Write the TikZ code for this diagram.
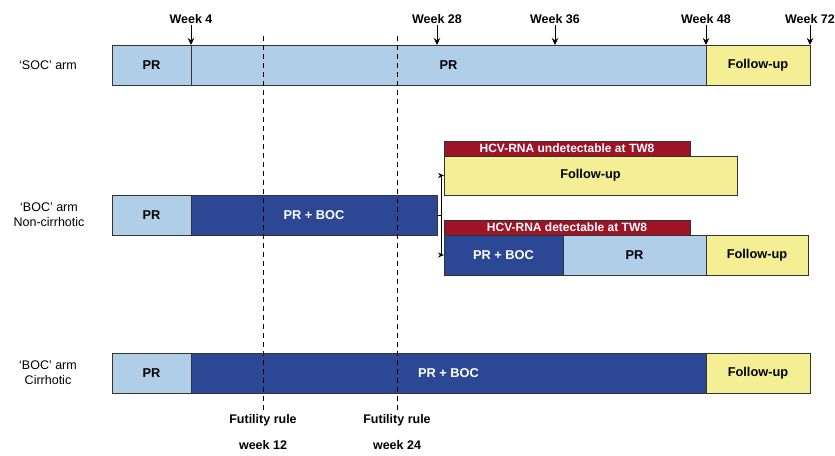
\documentclass[tikz,border=0pt]{standalone}
\usepackage{fontspec}
\setmainfont{Liberation Sans}
\usetikzlibrary{arrows.meta,positioning}
\definecolor{prcolor}{RGB}{176,206,232}
\definecolor{boccolor}{RGB}{44,72,148}
\definecolor{fucolor}{RGB}{244,238,148}
\definecolor{hcvcolor}{RGB}{158,20,38}
\tikzset{
  seg/.style={draw=black!80, line width=0.9pt, minimum height=40pt, inner sep=0pt,
    outer sep=0pt, anchor=west, font=\bfseries\fontsize{12.8}{14}\selectfont},
  prseg/.style={seg, fill=prcolor},
  bocseg/.style={seg, fill=boccolor, text=white},
  fuseg/.style={seg, fill=fucolor},
  hcvbar/.style={draw=black!80, line width=0.9pt, fill=hcvcolor, text=white,
    minimum height=15pt, inner sep=0pt, outer sep=0pt, anchor=south west,
    font=\bfseries\fontsize{12}{13}\selectfont},
  weeklbl/.style={font=\bfseries\fontsize{12.5}{14}\selectfont, inner sep=1.5pt},
  armlbl/.style={font=\fontsize{12.5}{15}\selectfont, align=center},
  tickar/.style={-{Stealth[length=7pt,width=6.5pt]}, line width=1pt},
  futln/.style={dash pattern=on 5pt off 4pt, line width=0.9pt},
  branch/.style={-{Stealth[length=6pt,width=5pt]}, line width=0.9pt},
}

\begin{document}
\begin{tikzpicture}[x=1pt, y=-1pt]
    \useasboundingbox (0,0) rectangle (835,455);
    % SOC arm
    \node[prseg, minimum width=79pt] (socpr) at (112,65) {PR};
    \node[prseg, minimum width=515pt, right=0pt of socpr] (socmain) {PR};
    \node[fuseg, minimum width=104pt, right=0pt of socmain] (socfu) {Follow-up};
    \node[armlbl] (socarm) at (48,65) {‘SOC’ arm};
    % week markers
    \node[weeklbl] (w4) at (191,19) {Week 4};
    \node[weeklbl] (w28) at (437,19) {Week 28};
    \node[weeklbl] (w36) at (555,19) {Week 36};
    \node[weeklbl] (w48) at (706,19) {Week 48};
    \node[weeklbl] (w72) at (810,19) {Week 72};
    \foreach \w in {w4,w28,w36,w48,w72}
      \draw[tickar] (\w.south) -- (\w.south |- socmain.north);
    % BOC arm, non-cirrhotic
    \node[prseg, minimum width=79pt] (ncpr) at (112,215) {PR};
    \node[bocseg, minimum width=246pt, right=0pt of ncpr] (ncboc) {PR + BOC};
    \node[armlbl] (ncarm) at (49,215) {‘BOC’ arm\\Non-cirrhotic};
    % undetectable branch
    \node[fuseg, minimum width=293pt, minimum height=39pt] (ufu) at (444,175.5) {Follow-up};
    \node[hcvbar, minimum width=246pt] (uhcv) at (ufu.north west)
      {HCV-RNA undetectable at TW8};
    % detectable branch
    \node[bocseg, minimum width=119pt] (lboc) at (444,255) {PR + BOC};
    \node[prseg, minimum width=143pt, right=0pt of lboc] (lpr) {PR};
    \node[fuseg, minimum width=102pt, right=0pt of lpr] (lfu) {Follow-up};
    \node[hcvbar, minimum width=246pt] (lhcv) at (lboc.north west)
      {HCV-RNA detectable at TW8};
    \coordinate (split) at ([xshift=4pt]ncboc.east);
    \draw[line width=0.9pt] (ncboc.east) -- (split);
    \draw[branch] (split) |- (ufu.west);
    \draw[branch] (split) |- (lboc.west);
    % BOC arm, cirrhotic
    \node[prseg, minimum width=79pt] (cipr) at (112,373) {PR};
    \node[bocseg, minimum width=515pt, right=0pt of cipr] (ciboc) {PR + BOC};
    \node[fuseg, minimum width=104pt, right=0pt of ciboc] (cifu) {Follow-up};
    \node[armlbl] (ciarm) at (48,373) {‘BOC’ arm\\Cirrhotic};
    % futility rules
    \node[weeklbl] (fut12) at (263,420) {Futility rule};
    \node[weeklbl] (wk12) at (263,445) {week 12};
    \node[weeklbl] (fut24) at (397,420) {Futility rule};
    \node[weeklbl] (wk24) at (397,445) {week 24};
    \coordinate (top12) at (263,36);
    \coordinate (top24) at (397,36);
    \draw[futln] (top12) -- (fut12.north);
    \draw[futln] (top24) -- (fut24.north);
\end{tikzpicture}
\end{document}
